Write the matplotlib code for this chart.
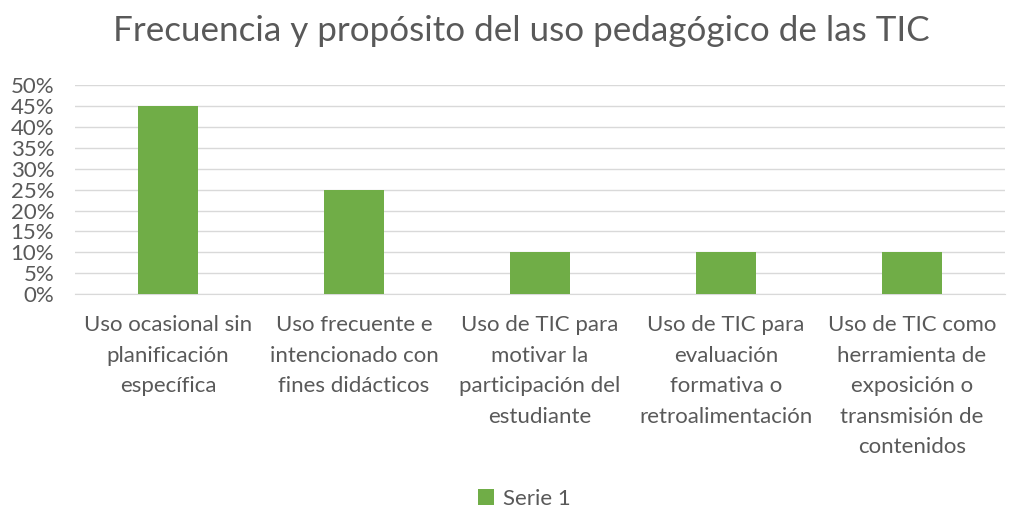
import matplotlib
matplotlib.use("Agg")
import matplotlib.pyplot as plt
from matplotlib.ticker import PercentFormatter

categories = [
    "Uso ocasional sin\nplanificación\nespecífica",
    "Uso frecuente e\nintencionado con\nfines didácticos",
    "Uso de TIC para\nmotivar la\nparticipación del\nestudiante",
    "Uso de TIC para\nevaluación\nformativa o\nretroalimentación",
    "Uso de TIC como\nherramienta de\nexposición o\ntransmisión de\ncontenidos",
]
values = [45, 25, 10, 10, 10]
series_name = "Serie 1"
title = "Frecuencia y propósito del uso pedagógico de las TIC"

plt.rcParams['font.family'] = ['Lato', 'DejaVu Sans']
text_color = "#595959"

fig = plt.figure(figsize=(10.14, 5.09), dpi=100)
ax = fig.add_axes([0.074, 0.422, 0.917, 0.411])

x = range(len(categories))
ax.bar(x, values, width=0.32, color="#70ad47", label=series_name, zorder=3)

ax.set_xlim(-0.5, len(categories) - 0.5)
ax.set_ylim(0, 50)
ax.set_yticks(range(0, 51, 5))
ax.yaxis.set_major_formatter(PercentFormatter(decimals=0))
ax.set_xticks(list(x))
ax.set_xticklabels(categories, fontsize=16, color=text_color, linespacing=1.66, va="top")
ax.tick_params(axis="y", labelsize=16, labelcolor=text_color, length=0, pad=15)
ax.tick_params(axis="x", length=0, pad=15)
ax.grid(axis="y", color="#d9d9d9", linewidth=1, zorder=0)
for s in ["top", "right", "left"]:
    ax.spines[s].set_visible(False)
ax.spines["bottom"].set_color("#d9d9d9")

fig.text(0.514, 0.94, title, ha="center", va="center", fontsize=25.2, color=text_color)
fig.legend(loc="center", bbox_to_anchor=(0.517, 0.02), frameon=False, fontsize=16,
           labelcolor=text_color, handlelength=0.7, handleheight=0.7, handletextpad=0.4)

fig.savefig("out.png", dpi=100, facecolor="white")
